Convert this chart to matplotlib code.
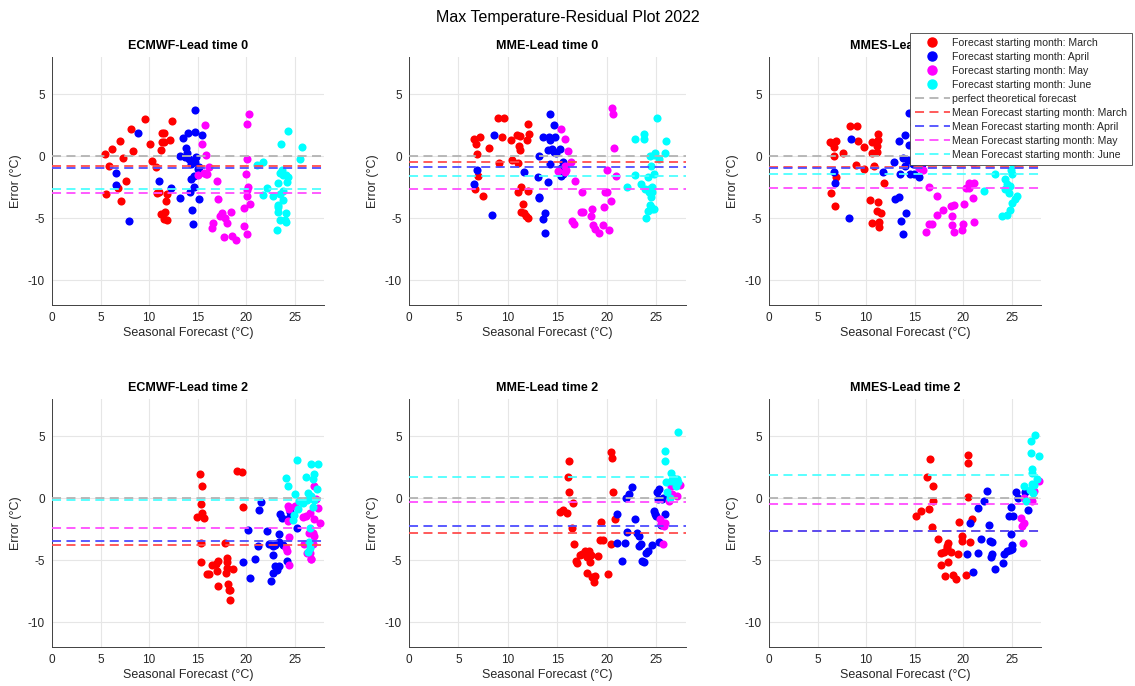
import numpy as np
import matplotlib
matplotlib.use("Agg")
import matplotlib.pyplot as plt
from matplotlib.lines import Line2D

plt.rcParams['font.family'] = ['Liberation Sans', 'DejaVu Sans']
plt.rcParams['axes.unicode_minus'] = False

months = ["March", "April", "May", "June"]
month_colors = ["#ff0000", "#0000ff", "#ff00ff", "#00ffff"]
mean_colors = ["#ff4d4d", "#4d4dff", "#ff4dff", "#4dffff"]

# (seasonal forecast, error) pairs per model / lead time / starting month
ecmwf0_mar = [(5.41, 0.16), (6.16, 0.56), (5.82, -0.81), (5.51, -3.06), (6.95, 1.24), (7.29, -0.11),
              (6.78, -2.58), (7.12, -3.60), (7.64, -1.96), (8.18, 2.23), (8.29, 0.40), (9.62, 2.96),
              (10.1, 0.99), (10.34, -0.40), (10.75, -0.86), (10.86, -2.96), (11.03, -2.85), (11.30, 1.88),
              (11.54, 1.91), (11.23, 0.48), (11.34, 1.18), (11.54, 1.16), (12.12, 1.29), (12.33, 2.85),
              (11.82, -3.06), (11.75, -3.60), (11.27, -4.65), (11.61, -4.46), (11.54, -5.08), (11.82, -5.16)]
ecmwf0_apr = [(8.90, 1.88), (6.61, -1.34), (6.54, -2.34), (7.88, -5.24), (10.99, -1.96), (12.26, -2.58),
              (13.22, 0.05), (13.53, 1.45), (13.77, 0.70), (13.87, 0.22), (14.04, 1.91), (13.70, -0.05),
              (14.14, -0.24), (14.28, -0.59), (14.69, 1.96), (14.69, 3.74), (14.86, -0.05), (14.73, -0.46),
              (15.0, -1.05), (15.17, -0.91), (15.45, 1.69), (14.32, -1.80), (14.62, -1.56), (14.66, -2.45),
              (14.18, -2.85), (13.18, -3.41), (15.14, -3.44), (14.42, -4.33), (14.52, -5.46)]
ecmwf0_may = [(15.79, 2.50), (15.48, 1.02), (15.89, 0.13), (16.13, -0.86), (15.62, -1.32), (15.86, -1.45),
              (15.03, -1.51), (16.0, -1.40), (16.95, -2.04), (17.09, -3.47), (16.58, -5.35), (16.47, -5.81),
              (17.29, -4.81), (17.53, -4.62), (17.77, -4.95), (18.01, -5.40), (18.42, -4.52), (17.67, -6.53),
              (18.56, -6.40), (18.90, -6.72), (20.24, 3.39), (20.10, 2.58), (20.03, -0.24), (19.97, -1.40),
              (20.17, -2.47), (20.10, -2.74), (20.03, -3.17), (20.41, -3.87), (19.73, -4.14), (19.73, -5.62),
              (20.10, -6.26)]
ecmwf0_jun = [(21.13, -0.67), (21.68, -0.48), (22.12, -2.55), (21.68, -3.12), (22.77, -3.17), (23.22, -2.20),
              (23.46, -3.04), (23.46, -1.37), (23.70, -1.08), (23.56, 0.97), (23.80, -1.48), (23.73, -2.77),
              (23.80, -3.52), (23.29, -4.06), (23.29, -4.54), (23.46, -5.13), (23.97, -5.16), (23.15, -5.99),
              (24.32, 2.07), (24.04, -1.53), (24.32, -1.67), (24.14, -2.07), (24.11, -4.57), (24.08, -5.27),
              (25.55, -0.24), (25.72, 0.73), (23.25, -3.90)]

mme0_mar = [(6.61, 1.40), (6.75, 1.02), (7.19, 1.53), (6.85, 0.16), (6.95, -1.61), (6.68, -2.63),
            (7.49, -3.23), (8.10, 0.70), (9.04, 3.09), (9.65, 3.09), (9.38, 1.53), (9.08, -0.54),
            (10.26, 1.29), (10.39, -0.32), (10.96, 1.69), (11.20, 1.61), (11.13, 0.86), (11.23, 0.48),
            (11.91, 1.29), (12.01, 2.58), (12.08, 1.83), (11.03, -0.51), (11.30, -2.47),
            (11.03, -2.88), (11.98, -2.82), (11.50, -3.84), (11.34, -4.49), (11.61, -4.62), (11.81, -4.81),
            (11.98, -4.95)]
mme0_apr = [(8.64, 1.67), (6.85, -1.08), (6.55, -2.28), (8.37, -4.76), (11.64, -1.26), (13.19, 0.0),
            (13.06, -1.67), (13.12, -3.28), (13.16, -3.39), (13.53, 1.56), (14.27, 3.41), (14.17, 1.56),
            (14.30, 1.29), (14.61, 2.55), (14.74, 1.56), (14.09, 0.54), (14.44, 0.62), (14.61, 0.35),
            (14.84, 0.22), (15.28, 0.62), (14.24, -0.65), (14.07, -2.07), (15.55, -0.46), (15.38, -0.97),
            (15.38, -1.61), (15.59, -1.42), (13.76, -4.62), (13.53, -5.08), (13.73, -6.16)]
mme0_may = [(15.35, 2.20), (15.72, 1.40), (16.09, 0.43), (16.40, -0.43), (15.76, -0.81), (15.86, -1.13),
            (15.08, -1.18), (15.72, -1.26), (16.80, -2.02), (17.48, -2.88), (16.50, -5.24), (16.63, -5.46),
            (17.34, -4.52), (17.54, -4.49), (18.45, -4.22), (18.39, -4.84), (18.56, -5.56), (18.83, -5.91),
            (19.23, -6.21), (19.57, -5.54), (20.18, -5.97), (19.67, -4.09), (19.77, -2.88), (20.04, -2.88),
            (20.45, -3.63), (20.04, -1.13), (20.95, -1.59), (20.55, 3.87), (20.65, 3.39), (20.75, 0.67)]
mme0_jun = [(22.03, -2.47), (22.87, 1.37), (23.72, 1.77), (23.79, 1.40), (22.87, -1.53), (23.48, -2.26),
            (23.89, -2.61), (24.12, -1.67), (24.29, -2.88), (24.46, -0.81), (24.39, 0.0), (24.73, -1.45),
            (24.60, -2.47), (24.56, -2.88), (24.73, 0.08), (24.83, 0.27), (25.24, -0.19), (25.07, 3.09),
            (25.84, 0.27), (25.98, 1.26), (23.92, -4.95), (24.12, -4.41), (24.32, -3.95), (24.46, -4.06),
            (24.56, -4.22), (24.76, -4.22), (24.49, -3.28), (24.22, -2.61)]

mmes0_mar = [(6.25, 1.11), (6.49, 1.03), (6.87, 1.22), (6.66, 0.76), (6.73, 0.05), (6.35, -3.0),
             (6.80, -4.0), (6.94, -1.70), (7.62, 0.22), (8.38, 2.43), (9.03, 2.41), (9.13, 1.24),
             (8.96, -0.68), (9.79, 0.76), (9.75, -1.03), (10.40, -3.57), (10.61, 1.16), (10.58, 0.27),
             (10.78, -0.81), (10.61, -5.38), (11.13, 0.35), (11.10, 0.81), (11.27, 1.76), (11.20, 1.30),
             (11.27, -3.73), (11.13, -4.38), (11.33, -5.32), (11.54, -4.59), (11.33, -5.68), (11.88, -2.14)]
mmes0_apr = [(8.41, 1.41), (6.70, -1.30), (6.80, -2.14), (8.28, -4.95), (11.74, -1.27), (12.88, -0.46),
             (12.98, -3.46), (13.43, -3.27), (13.39, 1.22), (13.52, -1.41), (13.56, -5.24), (13.77, -6.24),
             (14.09, -4.57), (13.98, 1.68), (13.80, -0.11), (14.04, -0.76), (14.42, 3.46), (14.56, -1.41),
             (14.94, -1.41), (15.49, -1.70), (14.29, -0.32), (14.42, 0.92), (14.80, -0.59), (15.73, -0.65),
             (15.2, 1.4), (15.6, 0.6), (16.0, 2.2), (14.9, 2.6)]
mmes0_may = [(15.49, -0.92), (15.83, -1.14), (16.52, -2.46), (16.21, -6.14), (16.45, -5.43), (16.76, -5.43),
             (17.34, -3.19), (17.31, -4.78), (17.93, -4.30), (18.78, -4.05), (19.06, -3.95), (18.82, -4.86),
             (18.85, -5.51), (19.06, -6.08), (19.92, -5.43), (19.85, -5.92), (20.06, -3.89), (20.30, -2.59),
             (20.54, -2.19), (21.06, -2.16), (20.95, -3.38), (21.12, -5.32), (20.95, -0.54), (20.54, -2.54),
             (17.5, 1.2), (19.5, 2.8), (20.3, 1.0)]
mmes0_jun = [(22.18, -2.84), (23.28, -1.46), (24.31, -1.81), (24.55, -2.27), (24.31, -2.62), (24.66, -2.95),
             (25.0, -0.51), (25.0, -1.41), (24.93, -1.14), (24.76, -2.43), (24.0, -4.86), (24.55, -4.73),
             (24.86, -4.30), (25.0, -3.78), (25.34, -3.43), (25.58, -3.22), (25.17, -0.32),
             (23.5, 1.0), (24.5, 2.5), (25.5, 1.6), (22.8, 0.5)]

ecmwf2_mar = [(15.27, 1.94), (15.48, 0.97), (15.38, -0.46), (14.97, -1.51), (15.48, -1.18), (15.68, -1.59),
              (15.38, -3.60), (15.38, -5.16), (15.92, -6.10), (16.13, -6.08), (16.51, -5.35), (16.85, -5.27),
              (17.05, -5.08), (17.02, -5.86), (17.12, -7.12), (17.84, -3.60), (17.88, -6.02), (18.01, -4.81),
              (18.05, -5.16), (18.05, -5.65), (18.08, -6.94), (18.22, -7.39), (18.29, -8.17), (18.63, -5.75),
              (19.08, 2.23), (19.55, 2.12), (19.66, -0.70), (18.32, -7.37)]
ecmwf2_apr = [(19.69, -5.16), (20.21, -2.53), (20.34, -6.45), (20.92, -4.92), (21.16, -3.87), (21.27, -0.97),
              (21.54, -0.30), (22.09, -2.66), (22.29, -3.68), (22.50, -6.69), (22.71, -4.60), (22.77, -3.87),
              (22.80, -6.02), (22.95, -3.74), (22.98, -5.48), (23.18, -5.83), (23.32, -3.52), (23.32, -2.88),
              (23.36, -5.43), (23.46, -1.26), (23.70, -1.59), (23.80, -3.79), (24.18, -5.03), (24.42, -1.59),
              (24.55, -1.13), (25.17, -2.39)]
ecmwf2_may = [(24.25, -0.65), (24.42, -0.91), (24.32, -1.85), (24.38, -3.12), (24.04, -4.01), (24.14, -4.27),
              (24.42, -5.38), (25.0, -0.65), (25.86, -1.51), (26.1, -1.45), (26.47, -2.80), (25.96, -3.66),
              (26.2, -4.41), (26.58, -4.41), (26.82, -2.80), (26.88, -3.66), (26.64, -4.87), (26.71, -4.89),
              (27.02, 0.97), (27.19, -0.03), (27.43, -0.78), (26.95, -1.67), (27.57, -1.99), (26.99, -3.06),
              (26.54, -1.18)]
ecmwf2_jun = [(25.27, 3.12), (24.04, 1.61), (24.32, 1.02), (26.1, 1.67), (26.71, 2.77), (27.40, 2.77),
              (27.02, 1.96), (26.88, 1.51), (27.33, 0.75), (25.0, 0.35), (25.45, -0.24), (25.86, -0.38),
              (26.2, -0.16), (26.4, 0.38), (26.82, -0.73), (26.71, 0.16), (24.83, -1.72), (24.9, -1.32),
              (26.54, -2.39), (26.47, -3.55), (26.40, -4.35), (26.51, -4.01), (25.34, -0.91), (26.95, -0.11)]

mme2_mar = [(15.22, -1.11), (15.55, -0.94), (15.96, -1.16), (16.13, 2.96), (16.03, 1.73), (16.19, 0.54),
            (16.53, -0.35), (16.46, -2.37), (16.70, -3.72), (16.84, -5.07), (16.94, -5.20), (17.24, -4.58),
            (17.51, -4.53), (17.75, -4.29), (17.98, -4.77), (18.25, -5.18), (17.98, -6.02), (18.15, -4.29),
            (18.35, -4.58), (18.49, -6.39), (18.83, -6.29), (18.73, -6.74), (19.13, -4.69), (19.43, -1.89),
            (19.33, -3.34), (19.64, -3.37), (20.07, -6.12), (20.38, 3.75), (20.55, 3.23), (20.65, 0.51),
            (20.85, -1.67), (20.41, -3.67)]
mme2_apr = [(21.02, -1.24), (21.02, -3.59), (21.52, -5.07), (21.86, -3.64), (22.03, -2.72), (21.96, 0.03),
            (22.27, 0.32), (22.54, 0.94), (22.81, -1.67), (23.04, -2.78), (23.21, -3.05), (23.25, -3.86),
            (23.45, -3.72), (23.55, -5.07), (23.75, -5.15), (23.95, -4.45), (24.12, -4.26), (24.56, -3.80),
            (24.76, -1.02), (24.83, -1.29), (24.97, -1.43), (25.10, 0.46), (25.24, 0.73), (25.17, -0.08),
            (25.27, -3.56), (25.44, -2.18), (25.54, -0.03), (25.67, 0.03), (25.84, -1.26)]
mme2_may = [(25.40, -1.67), (25.51, -2.05), (25.74, -2.26), (25.84, -1.97), (25.67, -3.69), (26.32, -0.22),
            (26.52, 1.00), (27.09, 0.19), (27.43, 1.05), (26.59, 0.30)]
mme2_jun = [(27.19, 5.36), (25.84, 3.77), (25.91, 2.96), (26.45, 2.05), (26.0, 1.27), (26.45, 1.40),
            (27.13, 1.54), (27.23, 1.27), (27.02, 1.0), (26.08, 0.46), (26.38, 0.03), (26.7, 1.6)]

mmes2_mar = [(15.14, -1.46), (15.65, -1.05), (16.23, 1.73), (16.58, 3.19), (16.44, -0.86), (16.92, 0.97),
             (16.92, -0.24), (16.78, -2.30), (17.40, -3.27), (17.67, -5.35), (17.71, -4.38), (17.98, -4.30),
             (18.12, -6.27), (18.32, -3.84), (18.42, -3.65), (18.36, -4.05), (18.42, -5.16), (18.73, -4.35),
             (18.94, -6.19), (19.28, -6.54), (19.55, -1.92), (19.45, -4.54), (19.83, -3.08), (19.86, -3.49),
             (20.27, -6.22), (20.45, 3.46), (20.48, 2.84), (20.48, 0.08), (20.72, -3.57), (20.88, -1.70)]
mmes2_apr = [(20.41, -4.54), (20.72, -2.03), (21.0, -5.95), (21.51, -0.78), (21.54, -4.38), (21.82, -3.27),
             (22.09, -0.19), (22.43, 0.59), (22.60, -2.19), (22.70, -3.43), (22.98, -3.57), (22.81, -4.73),
             (22.91, -4.51), (23.29, -5.70), (24.04, -5.24), (24.18, -4.54), (24.52, -4.22), (24.83, -4.16),
             (25.0, -4.11), (24.66, -1.46), (25.10, -1.46), (24.93, -0.73), (24.93, -2.92), (24.97, -3.76),
             (25.41, 0.49), (25.68, 0.03), (26.37, 0.49), (26.64, -0.92)]
mmes2_may = [(25.92, -1.59), (26.03, -2.22), (26.27, -2.0), (26.10, -3.62), (26.30, 0.03), (27.12, -0.24),
             (27.26, 0.62), (27.81, 1.38)]
mmes2_jun = [(27.40, 5.11), (26.99, 4.59), (27.02, 3.68), (27.81, 3.41), (27.05, 2.38), (27.09, 2.0),
             (27.60, 1.57), (26.30, 0.95), (27.05, 1.14), (27.33, 1.03), (26.88, 0.70), (27.16, 0.43),
             (26.44, -0.24)]

# mean error per starting month (March, April, May, June)
ecmwf0_means = [-0.81, -0.97, -2.96, -2.63]
mme0_means = [-0.48, -0.89, -2.66, -1.59]
mmes0_means = [-0.89, -0.97, -2.59, -1.41]
ecmwf2_means = [-3.74, -3.49, -2.39, -0.11]
mme2_means = [-2.80, -2.24, -0.30, 1.72]
mmes2_means = [-2.65, -2.65, -0.43, 1.86]

panels = [
    ("ECMWF-Lead time 0", [ecmwf0_mar, ecmwf0_apr, ecmwf0_may, ecmwf0_jun], ecmwf0_means),
    ("MME-Lead time 0", [mme0_mar, mme0_apr, mme0_may, mme0_jun], mme0_means),
    ("MMES-Lead time 0", [mmes0_mar, mmes0_apr, mmes0_may, mmes0_jun], mmes0_means),
    ("ECMWF-Lead time 2", [ecmwf2_mar, ecmwf2_apr, ecmwf2_may, ecmwf2_jun], ecmwf2_means),
    ("MME-Lead time 2", [mme2_mar, mme2_apr, mme2_may, mme2_jun], mme2_means),
    ("MMES-Lead time 2", [mmes2_mar, mmes2_apr, mmes2_may, mmes2_jun], mmes2_means),
]

W, H = 1135, 686
fig = plt.figure(figsize=(W / 100, H / 100), dpi=100)

col_left = [52, 409, 769]
col_width = [272, 277, 272]
row_top = [57, 399]
ax_h = 248
dash = (0, (5, 3))

for i, (title, groups, means) in enumerate(panels):
    r, c = divmod(i, 3)
    ax = fig.add_axes([col_left[c] / W, 1 - (row_top[r] + ax_h) / H, col_width[c] / W, ax_h / H])
    for pts, col in zip(groups, month_colors):
        arr = np.array(pts)
        ax.scatter(arr[:, 0], arr[:, 1], s=34, color=col, linewidths=0, zorder=3, clip_on=False)
    ax.axhline(0, color="#b3b3b3", ls=dash, lw=1.3, zorder=4)
    for m, col in zip(means, mean_colors):
        ax.axhline(m, color=col, ls=dash, lw=1.3, zorder=4)
    ax.set_xlim(0, 28)
    ax.set_ylim(-12, 8)
    ax.set_xticks([0, 5, 10, 15, 20, 25])
    ax.set_yticks([-10, -5, 0, 5])
    ax.grid(True, color="#e6e6e6", lw=0.8)
    ax.set_axisbelow(True)
    for s in ["top", "right"]:
        ax.spines[s].set_visible(False)
    for s in ["left", "bottom"]:
        ax.spines[s].set_color("#404040")
        ax.spines[s].set_linewidth(0.7)
    ax.tick_params(labelsize=8.5, colors="#262626", length=0, pad=5)
    ax.set_title(title, fontsize=9, fontweight="bold", pad=6)
    ax.set_xlabel("Seasonal Forecast (°C)", fontsize=9, labelpad=2, color="#262626")
    ax.set_ylabel("Error (°C)", fontsize=9, labelpad=4, color="#262626")

fig.suptitle("Max Temperature-Residual Plot 2022", fontsize=11.5, y=0.985)

handles = []
labels = []
for mname, col in zip(months, month_colors):
    handles.append(Line2D([], [], ls="none", marker="o", markersize=6.5, color=col))
    labels.append("Forecast starting month: " + mname)
handles.append(Line2D([], [], ls=dash, lw=1.3, color="#b3b3b3"))
labels.append("perfect theoretical forecast")
for mname, col in zip(months, mean_colors):
    handles.append(Line2D([], [], ls=dash, lw=1.3, color=col))
    labels.append("Mean Forecast starting month: " + mname)

leg = fig.legend(handles, labels, loc="upper right", bbox_to_anchor=(1132 / W, 1 - 33 / H),
                 fontsize=7.6, frameon=True, fancybox=False, framealpha=1, edgecolor="#404040",
                 handlelength=3.3, handletextpad=0.25, labelspacing=0.38, borderpad=0.45,
                 borderaxespad=0, labelcolor="#262626")
leg.get_frame().set_linewidth(0.6)
leg.set_zorder(10)

fig.savefig("out.png", dpi=100)
